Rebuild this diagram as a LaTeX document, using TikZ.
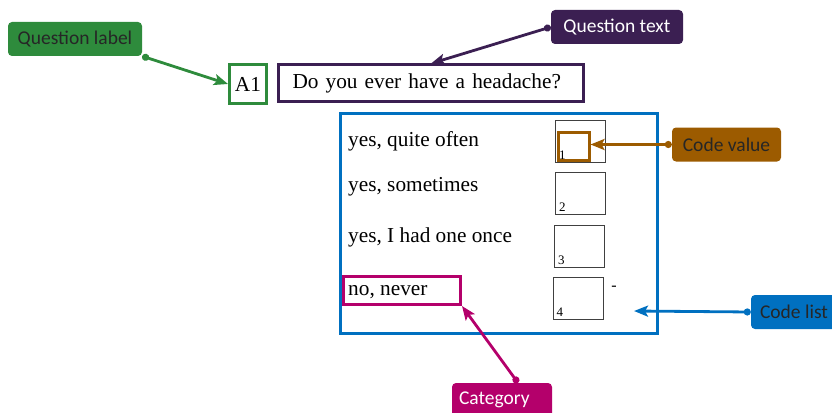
\documentclass[tikz,border=0pt]{standalone}
\usepackage{fontspec}
\setmainfont{Liberation Serif}
\newfontfamily\notefont{Carlito}
\usepackage{tikz}
\usetikzlibrary{arrows.meta,positioning}
\definecolor{labelgreen}{HTML}{2E8B3C}
\definecolor{textpurple}{HTML}{3B1F52}
\definecolor{valuebrown}{HTML}{9C5B00}
\definecolor{listblue}{HTML}{0070C0}
\definecolor{catmagenta}{HTML}{B4006B}
\definecolor{notedark}{HTML}{262626}
\tikzset{
    note/.style={rounded corners=4pt, inner sep=0pt, minimum height=34pt,
        font=\fontsize{19.5}{22}\notefont},
    markbox/.style={draw, line width=3pt, inner sep=0pt},
    codebox/.style={draw=black!75, line width=1pt, inner sep=0pt,
        minimum width=50pt, minimum height=42pt},
    codenum/.style={inner xsep=4pt, inner ysep=3pt, font=\fontsize{13}{15}\selectfont},
    option/.style={anchor=base west, inner sep=0pt},
    pointer/.style={{Circle[length=7pt]}-{Stealth[length=14pt,width=11pt,inset=3pt]}, line width=2.8pt}
}

\begin{document}
\begin{tikzpicture}[x=1pt, y=-1pt, font=\fontsize{21.3}{25}\selectfont]
\useasboundingbox (0,0) rectangle (832,412);

% callouts
\node[note, fill=labelgreen, text=notedark, minimum width=134pt] (labelnote) at (75,39) {Question label};
\node[note, fill=textpurple, text=white, minimum width=132pt] (textnote) at (617,27) {Question text};
\node[note, fill=valuebrown, text=notedark, minimum width=109pt] (valuenote) at (726.5,144.5) {Code value};
\node[note, fill=listblue, text=notedark, minimum width=86pt] (listnote) at (794,312) {Code list};
\node[note, fill=catmagenta, text=white, minimum width=100pt, text width=86pt, align=left] (catnote) at (502,400) {Category};

% question
\node[markbox, draw=labelgreen, minimum width=37pt, minimum height=38pt] (qlabel) at (248,84) {A1};
\node[markbox, draw=textpurple, text width=277pt, inner xsep=14pt, align=left,
    minimum height=36pt] (qtext) at (431,83) {Do you ever have a headache?};

% code list
\node[markbox, draw=listblue, minimum width=317pt, minimum height=220pt] (codeframe) at (498.5,223.5) {};
\node[option] (opt1) at (348,146) {yes, quite often};
\node[option] (opt2) at (348,191) {yes, sometimes};
\node[option] (opt3) at (348,242) {yes, I had one once};
\node[option] (opt4) at (348,295) {no, never};
\foreach \i/\x/\y in {1/580.5/141.5, 2/580.5/193, 3/579.5/246, 4/578/298.5} {
    \node[codebox] (code\i) at (\x,\y) {};
    \node[codenum, anchor=south west] (num\i) at (code\i.south west) {\i};
}
\node[inner sep=0pt, font=\fontsize{16}{18}\selectfont] (dash) at (614,288) {-};
\node[markbox, draw=valuebrown, minimum width=31pt, minimum height=28pt] (valuebox) at (573.5,146.5) {};
\node[markbox, draw=catmagenta, minimum width=117pt, minimum height=28pt] (catbox) at (402,290.5) {};
\coordinate (listpt) at (634,311);

\draw[pointer, labelgreen] (labelnote.south east) -- (qlabel.west);
\draw[pointer, textpurple] (textnote.west) -- (qtext.north);
\draw[pointer, valuebrown] (valuenote.west) -- (valuebox.east |- valuenote.west);
\draw[pointer, listblue] (listnote.west) -- (listpt);
\draw[pointer, catmagenta] ([xshift=16pt]catnote.north) -- (catbox.south east);
\end{tikzpicture}
\end{document}
